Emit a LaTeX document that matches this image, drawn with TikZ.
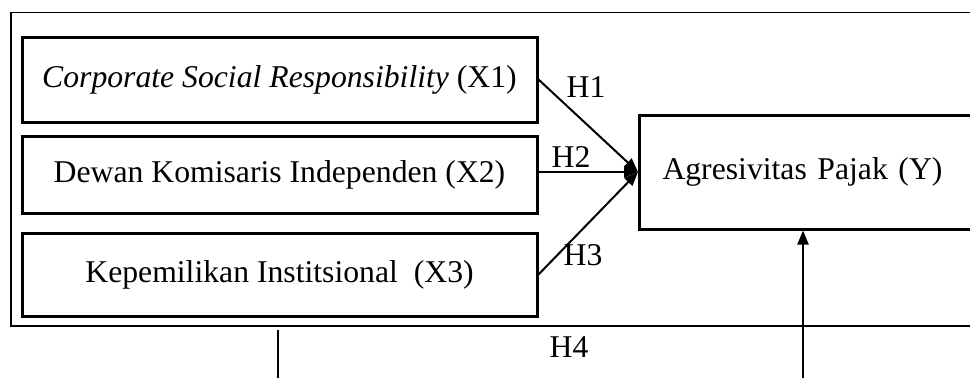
\documentclass[tikz,border=0pt]{standalone}
\usepackage{fontspec}
\setmainfont{Liberation Serif}
\usetikzlibrary{arrows.meta}
\tikzset{
  varbox/.style={draw, line width=3pt, minimum width=515pt, inner sep=0pt},
  hlabel/.style={inner sep=0pt},
  hyp/.style={line width=2pt, -{Triangle[length=14pt,width=11pt]}},
}
\begin{document}
\begin{tikzpicture}[x=1pt, y=-1pt, font=\fontsize{31.7pt}{38pt}\selectfont, line join=miter]
		\useasboundingbox (0,0) rectangle (970,378);
		\clip (0,0) rectangle (970,378);
		% outer frame
		\draw[line width=1.5pt] (11,12.5) rectangle (1000,326);
		\node[varbox, minimum height=85pt] (x1) at (279.5,79.5) {\textit{Corporate Social Responsibility} (X1)};
		\node[varbox, minimum height=77pt] (x2) at (279.5,174.5) {Dewan Komisaris Independen (X2)};
		\node[varbox, minimum height=83pt] (x3) at (279.5,274.5) {Kepemilikan Institsional\ \ (X3)};
		\node[draw, line width=3pt, anchor=west, minimum height=114pt, text width=354pt, inner xsep=23pt, inner ysep=0pt, align=left] (y) at (638,172) {Agresivitas Pajak (Y)};
		\draw[hyp] (x1.east) -- (y.west);
		\draw[hyp] (x2.east |- y.west) -- (y.west);
		\draw[hyp] (x3.east) -- (y.west);
		\node[hlabel] (h1) at (586,87) {H1};
		\node[hlabel] (h2) at (571,157) {H2};
		\node[hlabel] (h3) at (583,255) {H3};
		\node[hlabel] (h4) at (569,347) {H4};
		% moderating path
		\coordinate (h4top) at (278,330);
		\coordinate (h4bot) at (278,378);
		\coordinate (h4in) at (803,378);
		\draw[line width=1.5pt] (h4top) -- (h4bot);
		\draw[hyp] (h4in) -- (h4in |- y.south);
\end{tikzpicture}
\end{document}
